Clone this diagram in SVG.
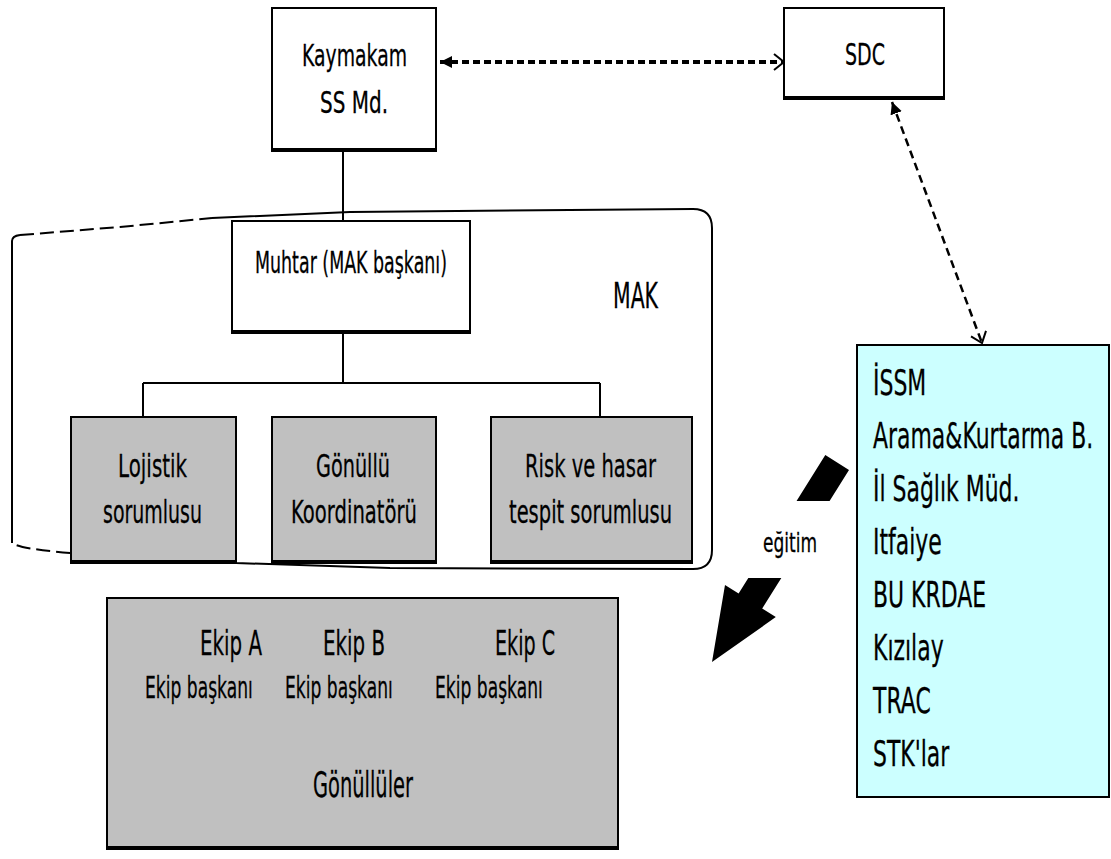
<svg xmlns="http://www.w3.org/2000/svg" width="1111" height="859" viewBox="0 0 1111 859">
<defs>
<style>
.box{fill:#fff;stroke:#000;stroke-width:2}
.grey{fill:#c0c0c0;stroke:#000;stroke-width:2}
.cyan{fill:#ccffff;stroke:#000;stroke-width:2}
.base{stroke:#000;stroke-width:4}
.ln{fill:none;stroke:#000;stroke-width:2}
.t{font-family:"DejaVu Sans","Liberation Sans",sans-serif;fill:#000;stroke:#000;stroke-width:0.3}
.dot{fill:none;stroke:#000;stroke-width:4;stroke-dasharray:7 4}
.dash{fill:none;stroke:#000;stroke-width:2.5;stroke-dasharray:8 5}
</style>
<marker id="fillHead" viewBox="0 0 12 12" refX="12" refY="6" markerWidth="12" markerHeight="12" orient="auto-start-reverse" markerUnits="userSpaceOnUse"><path d="M0,0 L12,6 L0,12 z" fill="#000"/></marker>
<marker id="openHead" viewBox="0 0 12 18" refX="11" refY="9" markerWidth="12" markerHeight="18" orient="auto" markerUnits="userSpaceOnUse"><path d="M1,1 L11,9 L1,17" fill="none" stroke="#000" stroke-width="2"/></marker>
</defs>
<rect width="1111" height="859" fill="#fff"/>

<g id="mak-frame">
<path class="ln" d="M12,543 L12,241 Q12,236 20,235"/>
<path class="ln" d="M20,235 L120,227 L212,218" stroke-dasharray="14 6"/>
<path class="ln" d="M212,218 L350,212 L693,209 Q712,209 712,228 L712,550 Q712,569 693,569 L390,568 L236,563 L150,558"/>
<path class="ln" d="M150,558 L71,553 Q20,549 12,543" stroke-dasharray="14 6"/>
<text class="t" x="613" y="308" font-size="36" textLength="45" lengthAdjust="spacingAndGlyphs">MAK</text>
</g>

<g id="connectors">
<path class="ln" d="M343,151 L343,220"/>
<path class="ln" d="M343,333 L343,383 M143,383 L600,383 M143,383 L143,417 M600,383 L600,417"/>
<path class="dot" d="M440,62 L784,62" marker-start="url(#fillHead)" marker-end="url(#openHead)"/>
<path class="dash" d="M892,102 L982,343" marker-start="url(#fillHead)" marker-end="url(#openHead)"/>
</g>

<g id="kaymakam">
<rect class="box" x="272" y="8" width="164" height="143"/>
<line class="base" x1="272" y1="150" x2="436" y2="150"/>
<text class="t" x="302" y="66" font-size="31" textLength="105" lengthAdjust="spacingAndGlyphs">Kaymakam</text>
<text class="t" x="320" y="113" font-size="31" textLength="68" lengthAdjust="spacingAndGlyphs">SS Md.</text>
</g>

<g id="sdc">
<rect class="box" x="784" y="8" width="160" height="91"/>
<line class="base" x1="784" y1="98" x2="944" y2="98"/>
<text class="t" x="845" y="65" font-size="31" textLength="40" lengthAdjust="spacingAndGlyphs">SDC</text>
</g>

<g id="muhtar">
<rect class="box" x="232" y="221" width="238" height="112"/>
<line class="base" x1="232" y1="332" x2="470" y2="332"/>
<text class="t" x="255" y="273" font-size="30" textLength="192" lengthAdjust="spacingAndGlyphs">Muhtar (MAK başkanı)</text>
</g>

<g id="lojistik">
<rect class="grey" x="71" y="417" width="165" height="146"/>
<line class="base" x1="71" y1="562" x2="236" y2="562"/>
<text class="t" x="118" y="477" font-size="32" textLength="69" lengthAdjust="spacingAndGlyphs">Lojistik</text>
<text class="t" x="103" y="523" font-size="32" textLength="99" lengthAdjust="spacingAndGlyphs">sorumlusu</text>
</g>

<g id="gonullu-koordinatoru">
<rect class="grey" x="272" y="417" width="164" height="146"/>
<line class="base" x1="272" y1="562" x2="436" y2="562"/>
<text class="t" x="316" y="477" font-size="32" textLength="74" lengthAdjust="spacingAndGlyphs">Gönüllü</text>
<text class="t" x="291" y="523" font-size="32" textLength="126" lengthAdjust="spacingAndGlyphs">Koordinatörü</text>
</g>

<g id="risk">
<rect class="grey" x="491" y="417" width="201" height="146"/>
<line class="base" x1="491" y1="562" x2="692" y2="562"/>
<text class="t" x="525" y="477" font-size="32" textLength="131" lengthAdjust="spacingAndGlyphs">Risk ve hasar</text>
<text class="t" x="509" y="523" font-size="32" textLength="163" lengthAdjust="spacingAndGlyphs">tespit sorumlusu</text>
</g>

<g id="ekipler">
<rect class="grey" x="107" y="598" width="511" height="251"/>
<line class="base" x1="107" y1="848" x2="618" y2="848"/>
<text class="t" x="200" y="655" font-size="34" textLength="62" lengthAdjust="spacingAndGlyphs">Ekip A</text>
<text class="t" x="323" y="655" font-size="34" textLength="62" lengthAdjust="spacingAndGlyphs">Ekip B</text>
<text class="t" x="495" y="655" font-size="34" textLength="60" lengthAdjust="spacingAndGlyphs">Ekip C</text>
<text class="t" transform="translate(145,698) scale(0.571,1)" font-size="30">Ekip başkanı</text>
<text class="t" transform="translate(285,698) scale(0.571,1)" font-size="30">Ekip başkanı</text>
<text class="t" transform="translate(435,698) scale(0.571,1)" font-size="30">Ekip başkanı</text>
<text class="t" x="313" y="797" font-size="36" textLength="100" lengthAdjust="spacingAndGlyphs">Gönüllüler</text>
</g>

<g id="egitim-arrow">
<polygon points="849,470 762.2,608.6 775.8,617.1 712,662 725,585.1 738.6,593.6 825.3,455.1" fill="#000"/>
<rect x="748" y="501" width="100" height="77" fill="#fff"/>
<text class="t" x="763" y="552" font-size="26" textLength="54" lengthAdjust="spacingAndGlyphs">eğitim</text>
</g>

<g id="kurumlar">
<rect class="cyan" x="857" y="345" width="252" height="452"/>
<g transform="translate(873,0) scale(0.61,1)">
<text class="t" x="0" y="395" font-size="36">İSSM</text>
<text class="t" x="0" y="448" font-size="36">Arama&amp;Kurtarma B.</text>
<text class="t" x="0" y="501" font-size="36">İl Sağlık Müd.</text>
<text class="t" x="0" y="554" font-size="36">Itfaiye</text>
<text class="t" x="0" y="607" font-size="36">BU KRDAE</text>
<text class="t" x="0" y="660" font-size="36">Kızılay</text>
<text class="t" x="0" y="713" font-size="36">TRAC</text>
<text class="t" x="0" y="766" font-size="36">STK'lar</text>
</g>
</g>
</svg>
